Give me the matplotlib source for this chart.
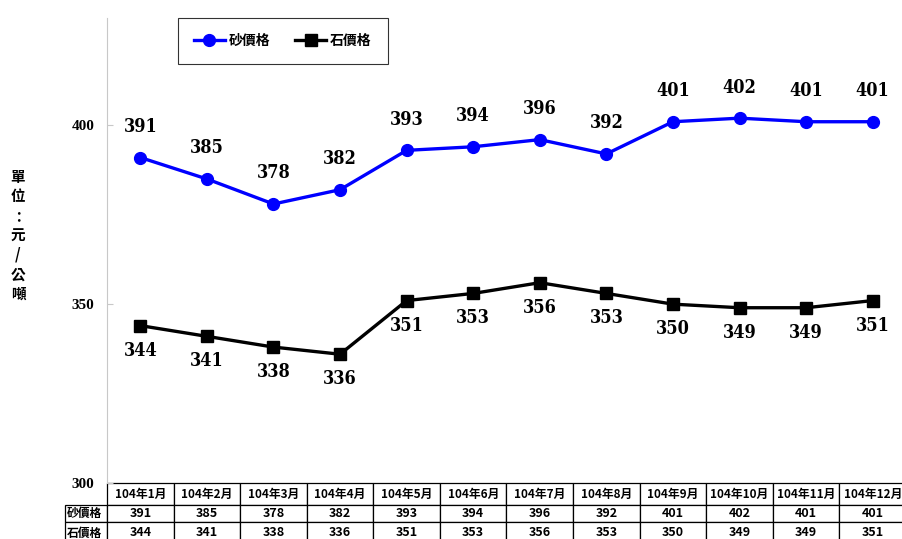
import matplotlib
matplotlib.use('Agg')
from matplotlib import pyplot as plt
from matplotlib import font_manager
from matplotlib.table import Table

plt.rcParams['font.family'] = ['Noto Sans CJK TC', 'DejaVu Sans']

# data
months = ['104年1月', '104年2月', '104年3月', '104年4月', '104年5月', '104年6月',
          '104年7月', '104年8月', '104年9月', '104年10月', '104年11月', '104年12月']
sand = [391, 385, 378, 382, 393, 394, 396, 392, 401, 402, 401, 401]
stone = [344, 341, 338, 336, 351, 353, 356, 353, 350, 349, 349, 351]
series_names = ['砂價格', '石價格']
ylabel_chars = ['單', '位', '：', '元', '/', '公', '噸']

# pick a narrow bold font for the point labels if one is there
fonts = font_manager.fontManager.ttflist
if any(f.name == 'DejaVu Serif' and f.stretch == 'condensed' for f in fonts):
    num_font = dict(family='DejaVu Serif', stretch='condensed', fontsize=13, fontweight='bold')
elif any(f.name == 'Liberation Sans Narrow' for f in fonts):
    num_font = dict(family='Liberation Sans Narrow', fontsize=14, fontweight='bold')
else:
    num_font = dict(family='DejaVu Sans', fontsize=12, fontweight='bold')

W, H = 903, 539
fig = plt.figure(figsize=(W / 100, H / 100), dpi=100)
ax = fig.add_axes([107 / W, (H - 483) / H, 799 / W, 465 / H])

x = list(range(len(months)))
ax.plot(x, sand, color='#0000ff', lw=2.4, marker='o', ms=8.5, label=series_names[0])
ax.plot(x, stone, color='black', lw=2.4, marker='s', ms=8, label=series_names[1])

for i, v in enumerate(sand):
    ax.annotate(str(v), (i, v), xytext=(0, 22), textcoords='offset points',
                ha='center', va='center', **num_font)
for i, v in enumerate(stone):
    ax.annotate(str(v), (i, v), xytext=(0, -18), textcoords='offset points',
                ha='center', va='center', **num_font)

ax.set_xlim(-0.5, len(months) - 0.5)
ax.set_ylim(300, 430)
ax.set_yticks([300, 350, 400])
ax.set_xticks([])
for s in ['top', 'right', 'bottom']:
    ax.spines[s].set_visible(False)
ax.spines['left'].set_color('#c8c8c8')
ax.tick_params(axis='y', direction='in', length=4, color='#c8c8c8', pad=9)
for lab in ax.get_yticklabels():
    lab.set_fontfamily(['Liberation Serif', 'DejaVu Serif'])
    lab.set_fontweight('bold')
    lab.set_fontsize(11)

leg = ax.legend(loc='upper left', bbox_to_anchor=(71 / 799, 1.0), ncol=2,
                frameon=True, fancybox=False, borderaxespad=0,
                prop=dict(weight='bold', size=10), handlelength=2.2,
                handletextpad=0.3, columnspacing=1.8, borderpad=1.15)
leg.get_frame().set_edgecolor('black')
leg.get_frame().set_linewidth(0.8)

# data table under the plot (label column sits left of the grid)
label_w, col_w = 42, 799 / 12
heights = [22, 17, 22]
tb = Table(ax, bbox=[0, -sum(heights) / 465, 1, sum(heights) / 465])
rows = [months, [str(v) for v in sand], [str(v) for v in stone]]
for r, row in enumerate(rows):
    hgt = heights[r] / 465
    size = 8.5 if r == 0 else 9
    if r > 0:
        c = tb.add_cell(r, -1, label_w / 799, hgt, text=series_names[r - 1], loc='left')
        c.get_text().set_fontweight('bold')
        c.get_text().set_fontsize(8.5)
        c.PAD = 0.04
    for j, t in enumerate(row):
        c = tb.add_cell(r, j, col_w / 799, hgt, text=t, loc='center')
        c.get_text().set_fontweight('bold')
        c.get_text().set_fontsize(size)
tb.auto_set_font_size(False)
for cell in tb.get_celld().values():
    cell.set_linewidth(0.9)
    cell.set_edgecolor('black')
ax.add_table(tb)

for k, ch in enumerate(ylabel_chars):
    fig.text(18 / W, 1 - (177 + k * 19.5) / H, ch, ha='center', va='center',
             fontsize=10.5, fontweight='bold')

fig.savefig('out.png', dpi=100)
